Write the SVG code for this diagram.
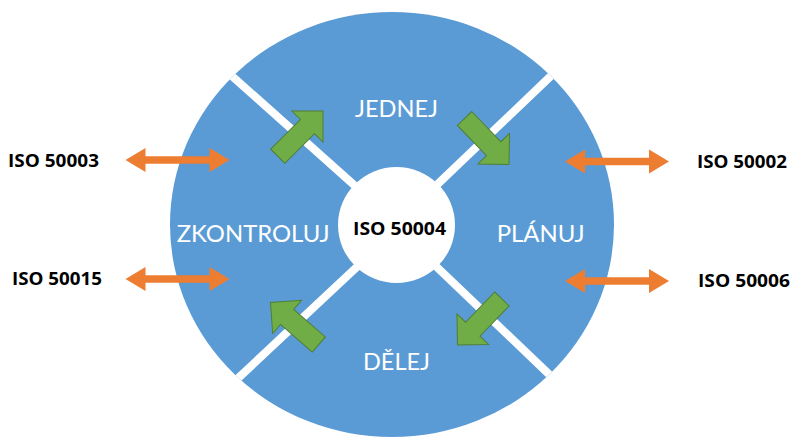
<svg xmlns="http://www.w3.org/2000/svg" xmlns:xlink="http://www.w3.org/1999/xlink" width="792" height="439" viewBox="0 0 792 439">
  <style>
    .phase { font-family: Lato, "Liberation Sans", sans-serif; font-size: 24px; fill: #ffffff; }
    .iso { font-family: "Open Sans", "Liberation Sans", sans-serif; font-weight: bold; font-size: 17px; fill: #000000; }
    .sep { stroke: #ffffff; stroke-width: 8; fill: none; }
    .green { fill: #70AD47; stroke: #507E32; stroke-width: 1; }
    .orange { fill: #ED7D31; }
  </style>
  <defs>
    <clipPath id="outerClip">
      <ellipse cx="392" cy="224.5" rx="222" ry="212.5"/>
    </clipPath>
    <polygon id="garrow" points="-64,-10 -22,-10 -22,-22 0,0 -22,22 -22,10 -64,10"/>
    <polygon id="oarrow" points="-52,0 -32,-12 -32,-3.7 32,-3.7 32,-12 52,0 32,12 32,3.7 -32,3.7 -32,12"/>
  </defs>
  <rect width="792" height="439" fill="#ffffff"/>

  <g id="cycle">
    <ellipse cx="392" cy="224.5" rx="222" ry="212.5" fill="#5B9BD5"/>
    <g clip-path="url(#outerClip)">
      <line class="sep" x1="228" y1="72.5" x2="372" y2="201"/>
      <line class="sep" x1="555" y1="72" x2="420" y2="201"/>
      <line class="sep" x1="233" y1="383" x2="375" y2="250"/>
      <line class="sep" x1="555" y1="380" x2="420" y2="251"/>
    </g>
  </g>

  <g id="center">
    <ellipse cx="396.5" cy="225" rx="58.5" ry="58" fill="#ffffff"/>
    <text class="iso" x="353" y="235" textLength="93" lengthAdjust="spacingAndGlyphs">ISO 50004</text>
  </g>

  <g id="jednej"><text class="phase" x="355" y="116.5" textLength="83" lengthAdjust="spacingAndGlyphs">JEDNEJ</text></g>
  <g id="planuj"><text class="phase" x="496.7" y="242" textLength="88" lengthAdjust="spacingAndGlyphs">PLÁNUJ</text></g>
  <g id="delej"><text class="phase" x="363" y="370" textLength="67" lengthAdjust="spacingAndGlyphs">DĚLEJ</text></g>
  <g id="zkontroluj"><text class="phase" x="176.7" y="241.5" textLength="153" lengthAdjust="spacingAndGlyphs">ZKONTROLUJ</text></g>

  <g id="iso50003"><text class="iso" x="8" y="166.5" textLength="91" lengthAdjust="spacingAndGlyphs">ISO 50003</text></g>
  <g id="iso50015"><text class="iso" x="12" y="285" textLength="90" lengthAdjust="spacingAndGlyphs">ISO 50015</text></g>
  <g id="iso50002"><text class="iso" x="697" y="167.5" textLength="90" lengthAdjust="spacingAndGlyphs">ISO 50002</text></g>
  <g id="iso50006"><text class="iso" x="698" y="286.5" textLength="92" lengthAdjust="spacingAndGlyphs">ISO 50006</text></g>

  <g id="connectors">
    <use xlink:href="#garrow" class="green" transform="translate(323,111) rotate(-45)"/>
    <use xlink:href="#garrow" class="green" transform="translate(509,164.5) rotate(46)"/>
    <use xlink:href="#garrow" class="green" transform="translate(457.5,345) rotate(134)"/>
    <use xlink:href="#garrow" class="green" transform="translate(270.5,302.5) rotate(-139)"/>
    <use xlink:href="#oarrow" class="orange" transform="translate(177.5,160)"/>
    <use xlink:href="#oarrow" class="orange" transform="translate(177.5,279)"/>
    <use xlink:href="#oarrow" class="orange" transform="translate(617,161.5)"/>
    <use xlink:href="#oarrow" class="orange" transform="translate(617,281)"/>
  </g>
</svg>
